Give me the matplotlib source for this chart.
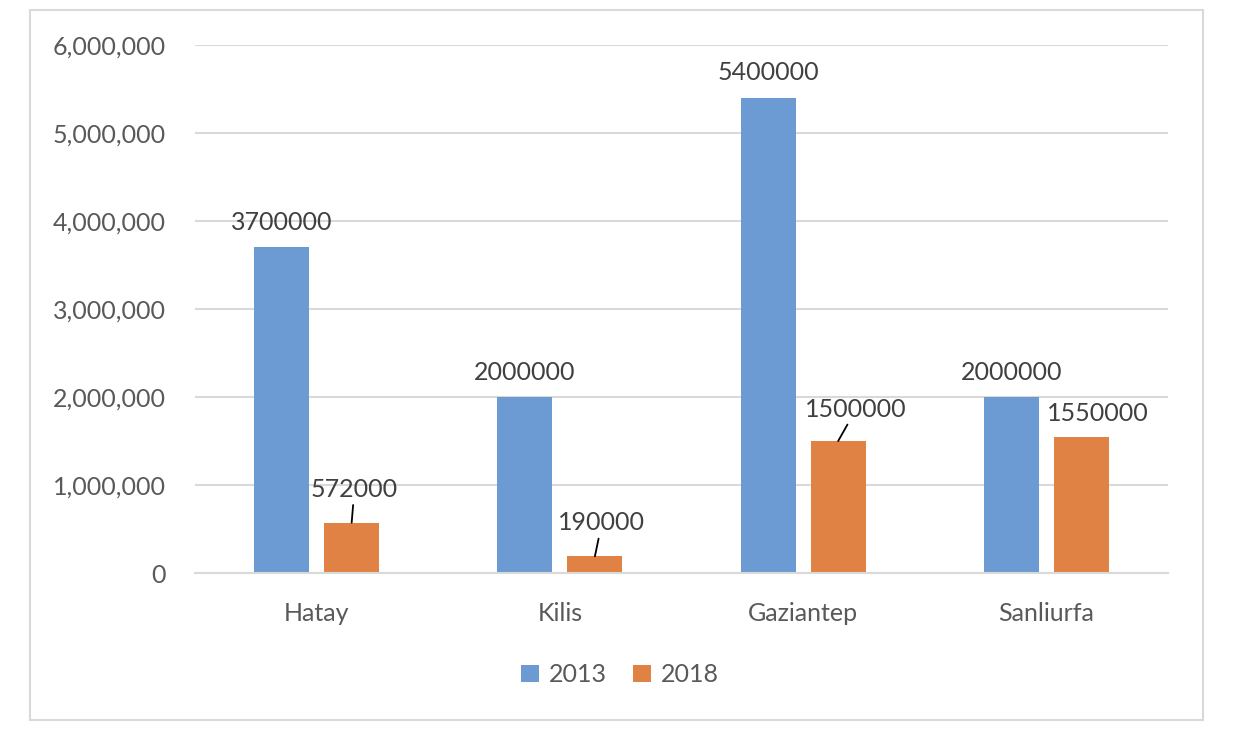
import matplotlib.pyplot as plt
import numpy as np
from matplotlib.patches import Rectangle
from matplotlib.ticker import FuncFormatter

plt.rcParams['font.family'] = ['Lato', 'DejaVu Sans']

cities = ["Hatay", "Kilis", "Gaziantep", "Sanliurfa"]
years = ["2013", "2018"]
vals_2013 = [3700000, 2000000, 5400000, 2000000]
vals_2018 = [572000, 190000, 1500000, 1550000]

# label offsets in points (dx, dy) and whether a leader line is drawn
off_2013 = [(0, 18), (0, 18), (0, 18), (0, 18)]
off_2018 = [(2, 24), (5, 24), (13, 23), (12, 17)]
leader_2018 = [True, True, True, False]

blue = '#6B9BD2'
orange = '#DF8244'
fs = 18

fig = plt.figure(figsize=(12.5, 7.44), dpi=100)
ax = fig.add_axes([0.156, 0.2298, 0.7784, 0.7097])

x = np.arange(len(cities))
w = 0.226
off = 0.144
b1 = ax.bar(x - off, vals_2013, w, color=blue, label=years[0], zorder=2)
b2 = ax.bar(x + off, vals_2018, w, color=orange, label=years[1], zorder=2)

for i, v in enumerate(vals_2013):
    ax.annotate(str(v), (x[i] - off, v), xytext=off_2013[i], textcoords='offset points',
                ha='center', va='center', fontsize=fs, color='#404040')
for i, v in enumerate(vals_2018):
    ap = None
    if leader_2018[i]:
        ap = dict(arrowstyle='-', color='black', lw=1.3, shrinkA=1, shrinkB=0)
    ax.annotate(str(v), (x[i] + off, v), xytext=off_2018[i], textcoords='offset points',
                ha='center', va='center', fontsize=fs, color='#404040', arrowprops=ap)

ax.set_ylim(0, 6000000)
ax.set_yticks(np.arange(0, 6000001, 1000000))
ax.yaxis.set_major_formatter(FuncFormatter(lambda v, p: f"{int(v):,}"))
ax.set_xlim(-0.5, 3.5)
ax.set_xticks(x)
ax.set_xticklabels(cities)
ax.tick_params(axis='y', length=0, pad=21, labelsize=fs, labelcolor='#595959')
ax.tick_params(axis='x', length=0, pad=21, labelsize=fs, labelcolor='#595959')
ax.grid(axis='y', color='#d9d9d9', lw=1.5, zorder=0)
for s in ['top', 'right', 'left']:
    ax.spines[s].set_visible(False)
ax.spines['bottom'].set_color('#d9d9d9')
ax.spines['bottom'].set_linewidth(1.5)

fig.legend(loc='center', bbox_to_anchor=(0.496, 0.093), ncol=2, frameon=False,
           fontsize=fs, labelcolor='#595959', handlelength=0.7, handleheight=0.7,
           handletextpad=0.4, columnspacing=1.05)

fig.patches.append(Rectangle((0.024, 0.032), 0.9384, 0.954, transform=fig.transFigure,
                             fill=False, edgecolor='#d9d9d9', lw=1.5))

plt.savefig("out.png")
